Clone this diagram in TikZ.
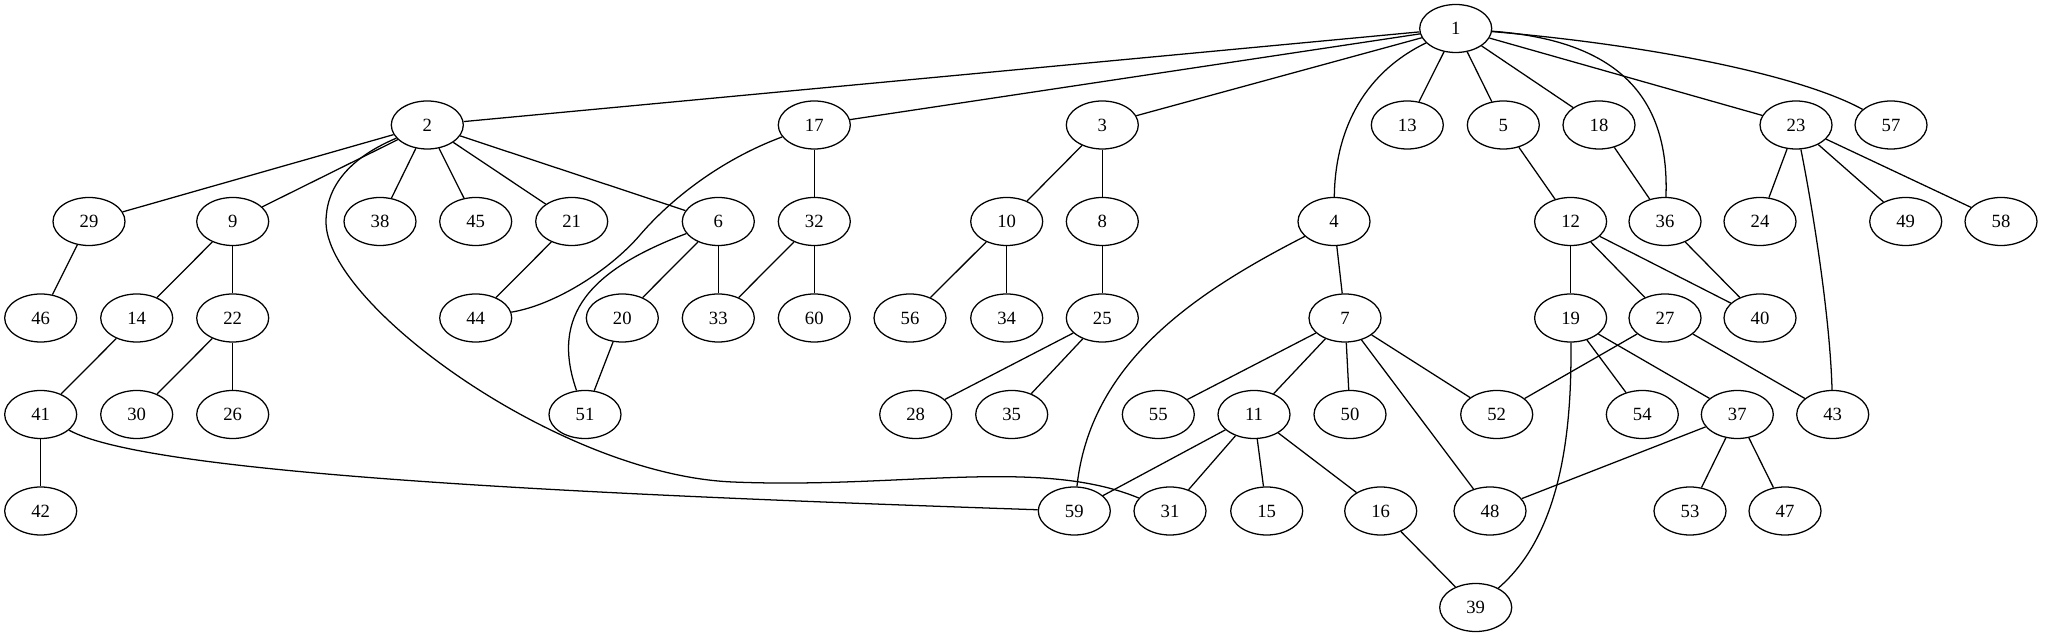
\documentclass[tikz,border=0pt]{standalone}
\usepackage{fontspec}
\setmainfont{Liberation Serif}
\usetikzlibrary{shapes.geometric}

\begin{document}
\begin{tikzpicture}[x=0.75pt, y=0.75pt, line width=0.95pt,
		every node/.style={ellipse, draw, minimum width=54pt, minimum height=36pt, inner sep=0pt,
			font=\fontsize{14pt}{16pt}\selectfont}]
		\useasboundingbox (0,0) rectangle (2047,635);
		% top row
		\node (n1) at (1455.7,606.5) {1};
		% first level
		\node (n2) at (427.3,510) {2};
		\node (n17) at (814.3,510) {17};
		\node (n3) at (1102.3,510) {3};
		\node (n13) at (1407.3,510) {13};
		\node (n5) at (1503.3,510) {5};
		\node (n18) at (1599,510) {18};
		\node (n23) at (1796,510) {23};
		\node (n57) at (1891,510) {57};
		% second level
		\node (n29) at (89,413.5) {29};
		\node (n9) at (232.7,413.5) {9};
		\node (n38) at (380,413.5) {38};
		\node (n45) at (475.7,413.5) {45};
		\node (n21) at (571.7,413.5) {21};
		\node (n6) at (718.3,413.5) {6};
		\node (n32) at (814.3,413.5) {32};
		\node (n10) at (1006.7,413.5) {10};
		\node (n8) at (1102.3,413.5) {8};
		\node (n4) at (1334,413.5) {4};
		\node (n12) at (1570.6,413.5) {12};
		\node (n36) at (1665,413.5) {36};
		\node (n24) at (1760,413.5) {24};
		\node (n49) at (1905.7,413.5) {49};
		\node (n58) at (2001,413.5) {58};
		% third level
		\node (n46) at (40.7,317) {46};
		\node (n14) at (136.7,317) {14};
		\node (n22) at (232.7,317) {22};
		\node (n44) at (475.7,317) {44};
		\node (n20) at (622.3,317) {20};
		\node (n33) at (718.3,317) {33};
		\node (n60) at (814.3,317) {60};
		\node (n56) at (910,317) {56};
		\node (n34) at (1006.7,317) {34};
		\node (n25) at (1102.3,317) {25};
		\node (n7) at (1345,317) {7};
		\node (n19) at (1570.6,317) {19};
		\node (n27) at (1665,317) {27};
		\node (n40) at (1760,317) {40};
		% fourth level
		\node (n41) at (40.7,220.5) {41};
		\node (n30) at (136.7,220.5) {30};
		\node (n26) at (232.7,220.5) {26};
		\node (n51) at (585,220.5) {51};
		\node (n28) at (915.7,220.5) {28};
		\node (n35) at (1011.7,220.5) {35};
		\node (n55) at (1158.3,220.5) {55};
		\node (n11) at (1254,220.5) {11};
		\node (n50) at (1350,220.5) {50};
		\node (n52) at (1496.7,220.5) {52};
		\node (n54) at (1642.3,220.5) {54};
		\node (n37) at (1737.3,220.5) {37};
		\node (n43) at (1832.7,220.5) {43};
		% fifth and sixth level
		\node (n42) at (40.7,124) {42};
		\node (n59) at (1074.3,124) {59};
		\node (n31) at (1170,124) {31};
		\node (n15) at (1266.7,124) {15};
		\node (n16) at (1380.7,124) {16};
		\node (n48) at (1490,124) {48};
		\node (n53) at (1690,124) {53};
		\node (n47) at (1785,124) {47};
		\node (n39) at (1475.7,27.5) {39};

		\path
		  (n1) edge (n2) edge (n17) edge (n3) edge (n13) edge (n5)
		       edge (n18) edge (n23)
		  (n2) edge (n29) edge (n9) edge (n38) edge (n45) edge (n21) edge (n6)
		  (n17) edge (n32)
		  (n3) edge (n10) edge (n8)
		  (n29) edge (n46)
		  (n9) edge (n14) edge (n22)
		  (n21) edge (n44)
		  (n6) edge (n20) edge (n33)
		  (n32) edge (n33) edge (n60)
		  (n10) edge (n56) edge (n34)
		  (n8) edge (n25)
		  (n4) edge (n7)
		  (n5) edge (n12)
		  (n18) edge (n36)
		  (n23) edge (n24) edge (n49) edge (n58)
		  (n12) edge (n19) edge (n27) edge (n40)
		  (n36) edge (n40)
		  (n14) edge (n41)
		  (n22) edge (n30) edge (n26)
		  (n20) edge (n51)
		  (n25) edge (n28) edge (n35)
		  (n7) edge (n55) edge (n11) edge (n50) edge (n52) edge (n48)
		  (n19) edge (n54) edge (n37)
		  (n27) edge (n52) edge (n43)
		  (n41) edge (n42)
		  (n11) edge (n59) edge (n31) edge (n15) edge (n16)
		  (n37) edge (n48) edge (n53) edge (n47)
		  (n16) edge (n39);

		% bent connectors
		\draw (n1) .. controls (1360,560) and (1335,500) .. (n4);
		\draw (n1) .. controls (1610,595) and (1670,545) .. (n36);
		\draw (n1) .. controls (1650,590) and (1800,560) .. (n57);
		\draw (n23) .. controls (1812,430) and (1830,320) .. (n43);
		\draw (n2) .. controls (345,475) and (326,445) .. (326,413)
		  .. controls (326,330) and (560,160) .. (733,153)
		  .. controls (900,146) and (1040,178) .. (n31);
		\draw (n17) .. controls (720,475) and (670,435) .. (640,400)
		  .. controls (610,365) and (555,330) .. (n44);
		\draw (n6) .. controls (590,365) and (550,320) .. (n51);
		\draw (n4) .. controls (1190,340) and (1090,270) .. (n59);
		\draw (n41) .. controls (150,160) and (600,140) .. (n59);
		\draw (n19) .. controls (1572,200) and (1560,100) .. (n39);
	       \end{tikzpicture}
\end{document}
